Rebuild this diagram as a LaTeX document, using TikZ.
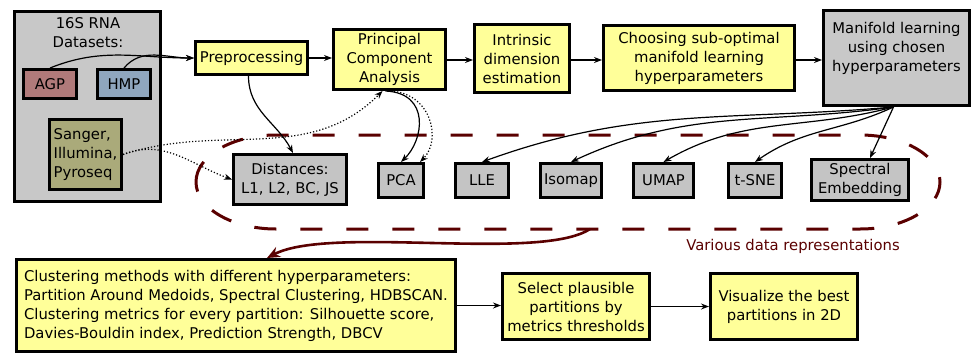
\documentclass[tikz,border=0pt]{standalone}
\usepackage{fontspec}
\setmainfont{DejaVu Sans}
\usetikzlibrary{arrows.meta}
\definecolor{boxyellow}{RGB}{255,255,153}
\definecolor{boxgray}{RGB}{200,200,200}
\definecolor{smallgray}{RGB}{196,196,196}
\definecolor{agpred}{RGB}{176,122,122}
\definecolor{hmpblue}{RGB}{143,166,190}
\definecolor{seqolive}{RGB}{170,170,122}
\definecolor{darkred}{RGB}{90,0,0}
\begin{document}
\begin{tikzpicture}[x=1pt,y=1pt,
  font=\fontsize{14.8}{19}\selectfont,
  box/.style={draw=black, line width=3pt, inner sep=0pt, align=center},
  ybox/.style={box, fill=boxyellow},
  gbox/.style={box, fill=boxgray},
  sbox/.style={box, fill=smallgray},
  arr/.style={-{Stealth[length=8pt,width=6pt]}, line width=1.2pt},
  dotarr/.style={arr, dotted},
  bigarr/.style={-{Stealth[length=13pt,width=11pt]}, line width=2.6pt, draw=darkred}]
\useasboundingbox (0,0) rectangle (972,-354);

% dashed region
\draw[darkred, line width=3pt, dash pattern=on 22pt off 24pt]
  (196,-182) arc[start angle=180,end angle=90,x radius=80,y radius=47]
  -- (860,-135) arc[start angle=90,end angle=0,x radius=80,y radius=47]
  arc[start angle=0,end angle=-90,x radius=80,y radius=47]
  -- (276,-229) arc[start angle=-90,end angle=-180,x radius=80,y radius=47];
\node[text=darkred] (various) at (793,-246) {Various data representations};
\coordinate (ellbot) at (590,-229);

% datasets
\node[gbox, minimum width=146pt, minimum height=190pt] (ds) at (87.5,-106.5) {};
\node[align=center] (dslabel) at (88,-33) {16S RNA\\Datasets:};
\node[box, fill=agpred, minimum width=53pt, minimum height=29pt] (agp) at (50,-84) {AGP};
\node[box, fill=hmpblue, minimum width=53pt, minimum height=29pt] (hmp) at (124,-84) {HMP};
\node[box, fill=seqolive, minimum width=72pt, minimum height=70pt, align=left] (seq) at (85.5,-154.5) {Sanger,\\Illumina,\\Pyroseq};

% top row
\node[ybox, minimum width=112pt, minimum height=33pt] (pre) at (251.5,-58) {Preprocessing};
\node[ybox, minimum width=112pt, minimum height=60pt] (pca) at (389.5,-59.5) {Principal\\Component\\Analysis};
\node[ybox, minimum width=95pt, minimum height=68pt] (intr) at (522,-58.5) {Intrinsic\\dimension\\estimation};
\node[ybox, minimum width=191pt, minimum height=65pt] (choose) at (699,-58) {Choosing sub-optimal\\manifold learning\\hyperparameters};
\node[gbox, minimum width=146pt, minimum height=95pt] (man) at (896.5,-58) {Manifold learning\\using chosen\\hyperparameters\\[4pt]};

% representations
\node[sbox, minimum width=113pt, minimum height=50pt] (dist) at (290,-179.5) {Distances:\\L1, L2, BC, JS};
\node[sbox, minimum width=45pt, minimum height=34pt] (pcab) at (401,-180.5) {PCA};
\node[sbox, minimum width=53pt, minimum height=34pt] (lle) at (482,-180.5) {LLE};
\node[sbox, minimum width=61pt, minimum height=34pt] (iso) at (571,-180.5) {Isomap};
\node[sbox, minimum width=60pt, minimum height=34pt] (umap) at (663.5,-180.5) {UMAP};
\node[sbox, minimum width=53pt, minimum height=34pt] (tsne) at (755,-180.5) {t-SNE};
\node[sbox, minimum width=97pt, minimum height=41pt] (spec) at (860,-180) {Spectral\\Embedding};

% bottom row
\node[ybox, minimum width=439pt, minimum height=92pt, align=left] (clu) at (236,-305.5)
 {Clustering methods with different hyperparameters:\\Partition Around Medoids, Spectral Clustering, HDBSCAN.\\Clustering metrics for every partition: Silhouette score,\\Davies-Bouldin index, Prediction Strength, DBCV};
\node[ybox, minimum width=147pt, minimum height=66pt] (sel) at (576,-306.5) {Select plausible\\partitions by\\metrics thresholds};
\node[ybox, minimum width=147pt, minimum height=66pt] (vis) at (784,-306.5) {Visualize the best\\partitions in 2D};

% connectors
\draw[arr] (agp.north) to[out=22,in=180] (pre.west);
\draw[arr] (hmp.north) to[out=50,in=180] (pre.west);
\draw[arr] (pre.east) -- (pre.east -| pca.west);
\draw[arr] ([yshift=-0.5pt]pca.east) -- ([yshift=-0.5pt]pca.east -| intr.west);
\draw[arr] ([yshift=-1.5pt]intr.east) -- ([yshift=-1.5pt]intr.east -| choose.west);
\draw[arr] ([yshift=-2pt]choose.east) -- ([yshift=-2pt]choose.east -| man.west);
\draw[arr] ([xshift=-3pt]pre.south) to[out=-90,in=118] ([xshift=3pt]dist.north);
\draw[dotarr] (seq.east) to[out=18,in=-135] ([xshift=-7pt]pca.south);
\draw[dotarr] (seq.east) to[out=22,in=160] (dist.west);
\draw[arr] ([xshift=-4pt]pca.south) .. controls +(45,-2) and +(23,22) .. (pcab.north);
\draw[dotarr] ([xshift=-2pt]pca.south) .. controls +(44,0) and +(22,22) .. ([xshift=19pt]pcab.north);
\draw[arr] ([xshift=-3pt]man.south) to[out=185,in=20] (lle.north);
\draw[arr] ([xshift=-3pt]man.south) to[out=188,in=25] (iso.north);
\draw[arr] ([xshift=-3pt]man.south) to[out=195,in=30] (umap.north);
\draw[arr] ([xshift=-3pt]man.south) to[out=205,in=35] (tsne.north);
\draw[arr] ([xshift=-3pt]man.south) -- ([xshift=10pt]spec.north);
\draw[bigarr] (ellbot) .. controls (540,-262) and (330,-225) .. ([xshift=31pt]clu.north);
\draw[arr] (clu.east) -- (clu.east -| sel.west);
\draw[arr] (sel.east) -- (vis.west);
\end{tikzpicture}
\end{document}
